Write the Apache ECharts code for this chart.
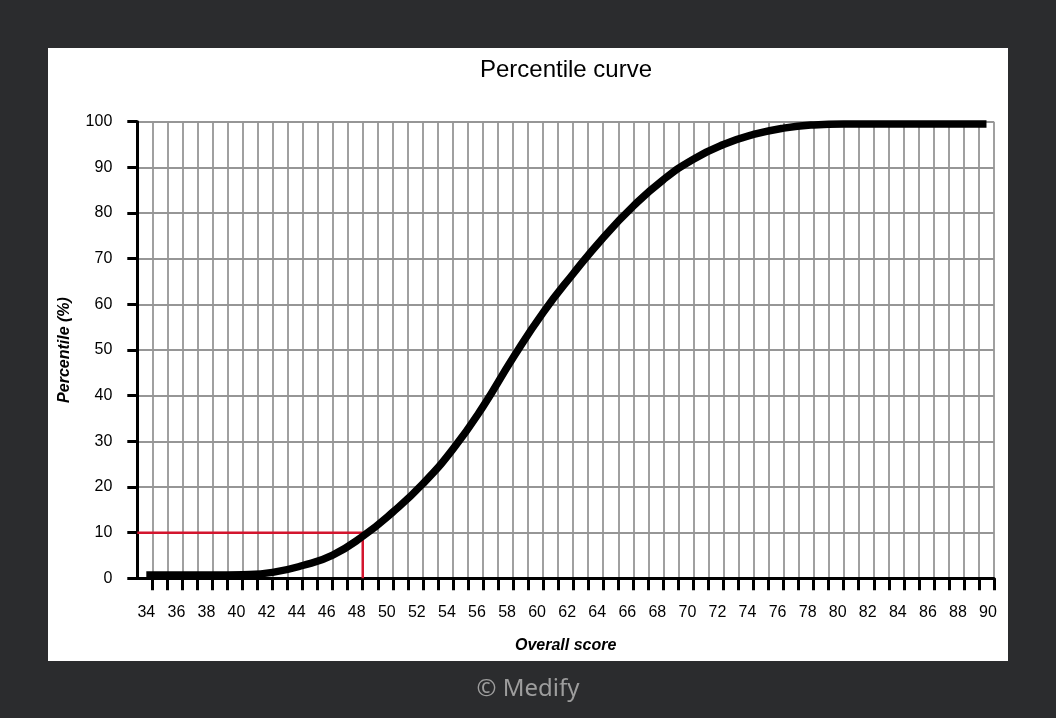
<!DOCTYPE html>
<html>
<head>
<meta charset="utf-8">
<script src="https://cdn.jsdelivr.net/npm/echarts@6/dist/echarts.min.js"></script>
<style>
html,body{margin:0;padding:0;background:#2b2c2e;width:1056px;height:718px;overflow:hidden;}
#panel{position:absolute;left:48px;top:48px;width:960px;height:613px;background:#fff;}
#chart{position:absolute;left:0;top:0;width:1056px;height:718px;}
</style>
</head>
<body>
<div id="panel"></div>
<div id="chart"></div>
<script>
// Data
var titleText = 'Percentile curve';
var xName = 'Overall score';
var yName = 'Percentile (%)';
var footerText = '\u00A9 Medify';
var scoreValues = [33.6, 36, 38, 40, 42, 44, 46, 48, 50, 52, 54, 56, 58, 60, 62, 64, 66, 68, 70, 72, 74, 76, 78, 80, 82, 84, 86, 88, 89.5];
var percentileValues = [0.7, 0.7, 0.7, 0.8, 1.3, 2.8, 5.1, 9.2, 14.5, 20.7, 28.3, 37.6, 48.3, 58.2, 66.7, 74.6, 81.5, 87.3, 91.8, 95.0, 97.2, 98.6, 99.3, 99.5, 99.5, 99.5, 99.5, 99.5, 99.5];
var refScores = [33, 48, 48];
var refPercentiles = [10, 10, 0];
var xTickValues = [34,35,36,37,38,39,40,41,42,43,44,45,46,47,48,49,50,51,52,53,54,55,56,57,58,59,60,61,62,63,64,65,66,67,68,69,70,71,72,73,74,75,76,77,78,79,80,81,82,83,84,85,86,87,88,89,90];
var xLabelValues = [34,36,38,40,42,44,46,48,50,52,54,56,58,60,62,64,66,68,70,72,74,76,78,80,82,84,86,88,90];

var curveData = scoreValues.map(function (x, i) { return [x, percentileValues[i]]; });
var refData = refScores.map(function (x, i) { return [x, refPercentiles[i]]; });

var FONT = '"Liberation Sans", Arial, sans-serif';
var chart = echarts.init(document.getElementById('chart'), null, {renderer: 'canvas'});
chart.setOption({
  animation: false,
  backgroundColor: 'transparent',
  textStyle: {fontFamily: FONT},
  title: {
    text: titleText,
    left: 566,
    top: 58,
    padding: 0,
    textAlign: 'center',
    textStyle: {fontFamily: FONT, fontSize: 24, fontWeight: 'normal', color: '#000'}
  },
  graphic: [{
    type: 'text',
    left: 'center',
    top: 677,
    style: {text: footerText, fill: '#9d9d9d', font: '24px "Noto Sans", sans-serif'}
  }],
  grid: {left: 137.3, top: 121.7, width: 856.7, height: 456.6, containLabel: false},
  xAxis: {
    type: 'value',
    min: 33,
    max: 90,
    interval: 1,
    name: xName,
    nameLocation: 'middle',
    nameGap: 59,
    nameTextStyle: {fontFamily: FONT, fontSize: 16, fontWeight: 'bold', fontStyle: 'italic', color: '#000'},
    axisLine: {show: true, onZero: false, lineStyle: {color: '#000', width: 3}},
    axisTick: {show: true, length: 12, customValues: xTickValues, lineStyle: {color: '#000', width: 3}},
    axisLabel: {show: true, customValues: xLabelValues, fontSize: 16, color: '#000', margin: 26, padding: [0, 12, 0, 0], fontFamily: FONT},
    splitLine: {show: true, lineStyle: {color: '#969696', width: 1.8}}
  },
  yAxis: {
    type: 'value',
    min: 0,
    max: 100,
    interval: 10,
    name: yName,
    nameLocation: 'middle',
    nameGap: 65,
    nameTextStyle: {fontFamily: FONT, fontSize: 16, fontWeight: 'bold', fontStyle: 'italic', color: '#000'},
    axisLine: {show: true, lineStyle: {color: '#000', width: 3}},
    axisTick: {show: true, length: 10, lineStyle: {color: '#000', width: 3}},
    axisLabel: {show: true, fontSize: 16, color: '#000', margin: 25, fontFamily: FONT},
    splitLine: {show: true, lineStyle: {color: '#969696', width: 1.8}}
  },
  series: [
    {
      type: 'line',
      data: refData,
      showSymbol: false,
      symbol: 'none',
      z: 3,
      lineStyle: {color: '#d3152e', width: 2.5},
      silent: true
    },
    {
      type: 'line',
      data: curveData,
      smooth: 0.5,
      showSymbol: false,
      symbol: 'none',
      z: 4,
      lineStyle: {color: '#000', width: 7.5, cap: 'butt', join: 'round'},
      silent: true
    }
  ]
});
</script>
</body>
</html>
